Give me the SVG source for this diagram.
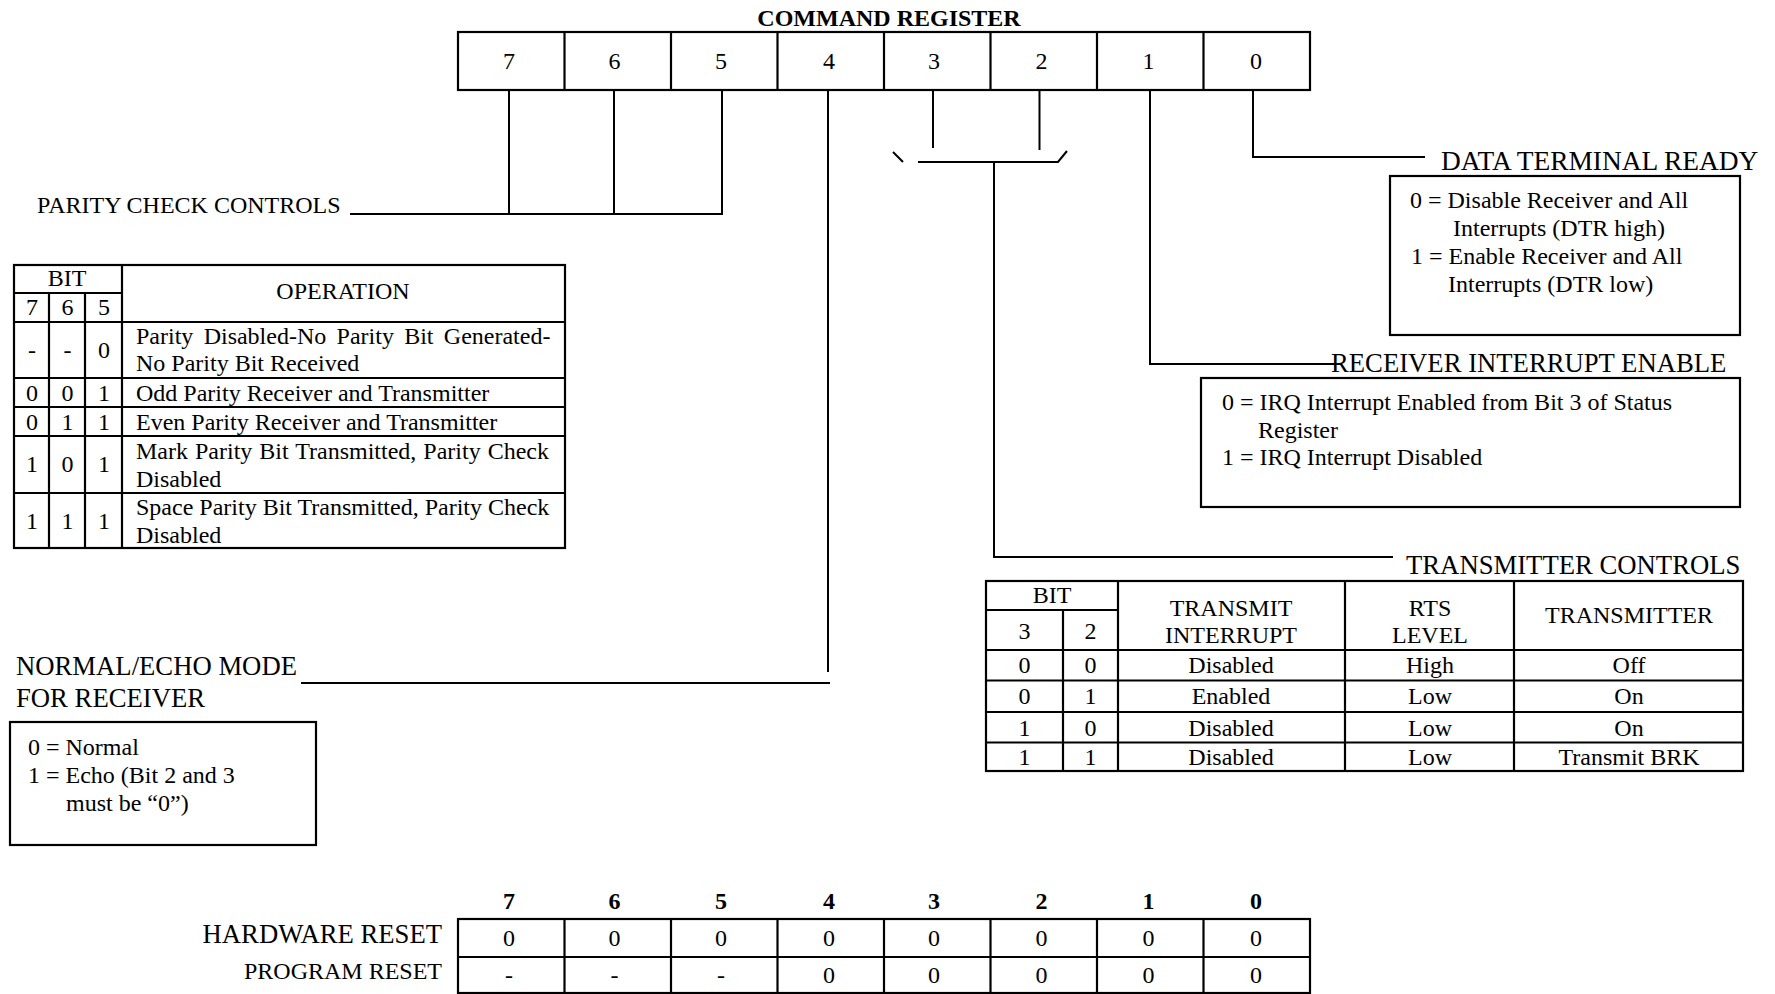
<svg xmlns="http://www.w3.org/2000/svg" width="1775" height="994" viewBox="0 0 1775 994">
<style>
.ln{stroke:#000;stroke-width:2;fill:none}
.bx{stroke:#000;stroke-width:2.2;fill:none}
text{font-family:'Liberation Serif','Times New Roman',serif;font-size:24px;fill:#000}
.lbl{font-size:26.7px}
.b{font-weight:bold}
.c{text-anchor:middle}
.r{text-anchor:end}
</style>
<rect width="1775" height="994" fill="#fff"/>

<g id="command-register">
<text class="b c" x="889" y="26">COMMAND REGISTER</text>
<rect class="bx" x="458" y="32" width="852" height="58"/>
<path class="bx" d="M564.5 32V90M671 32V90M777.5 32V90M884 32V90M990.5 32V90M1097 32V90M1203.5 32V90"/>
<text class="c" x="509" y="69">7</text>
<text class="c" x="614.5" y="69">6</text>
<text class="c" x="721" y="69">5</text>
<text class="c" x="829" y="69">4</text>
<text class="c" x="934" y="69">3</text>
<text class="c" x="1041.5" y="69">2</text>
<text class="c" x="1148.5" y="69">1</text>
<text class="c" x="1256" y="69">0</text>
</g>

<g id="connectors">
<path class="ln" d="M509 90V214M614 90V214M722 90V214M350 214H723"/>
<path class="ln" d="M828 90V672M301 683H830"/>
<path class="ln" d="M933 90V148M1039.5 90V150M918 162H1058L1067 151M893 152L903 162M994 162V557H1393"/>
<path class="ln" d="M1150 90V364H1341"/>
<path class="ln" d="M1253 90V157H1425"/>
</g>

<g id="parity-check-controls">
<text x="37" y="213">PARITY CHECK CONTROLS</text>
<rect class="bx" x="14" y="265" width="551" height="283"/>
<path class="bx" d="M122 265V548M49 293V548M85 293V548M14 293H122M14 322H565M14 378H565M14 407H565M14 436H565M14 493H565"/>
<text class="c" x="67" y="286">BIT</text>
<text class="c" x="32" y="315">7</text>
<text class="c" x="67.5" y="315">6</text>
<text class="c" x="104" y="315">5</text>
<text class="c" x="343" y="299">OPERATION</text>
<text class="c" x="32" y="358">-</text>
<text class="c" x="67.5" y="358">-</text>
<text class="c" x="104" y="358">0</text>
<text x="136" y="344" word-spacing="4.3">Parity Disabled-No Parity Bit Generated-</text>
<text x="136" y="371">No Parity Bit Received</text>
<text class="c" x="32" y="401">0</text>
<text class="c" x="67.5" y="401">0</text>
<text class="c" x="104" y="401">1</text>
<text x="136" y="401">Odd Parity Receiver and Transmitter</text>
<text class="c" x="32" y="430">0</text>
<text class="c" x="67.5" y="430">1</text>
<text class="c" x="104" y="430">1</text>
<text x="136" y="430">Even Parity Receiver and Transmitter</text>
<text class="c" x="32" y="472">1</text>
<text class="c" x="67.5" y="472">0</text>
<text class="c" x="104" y="472">1</text>
<text x="136" y="458.5" word-spacing="1">Mark Parity Bit Transmitted, Parity Check</text>
<text x="136" y="487">Disabled</text>
<text class="c" x="32" y="529">1</text>
<text class="c" x="67.5" y="529">1</text>
<text class="c" x="104" y="529">1</text>
<text x="136" y="515">Space Parity Bit Transmitted, Parity Check</text>
<text x="136" y="543">Disabled</text>
</g>

<g id="normal-echo-mode">
<text class="lbl" x="16" y="675">NORMAL/ECHO MODE</text>
<text class="lbl" x="16" y="707">FOR RECEIVER</text>
<rect class="bx" x="10" y="722" width="306" height="123"/>
<text x="28" y="755">0 = Normal</text>
<text x="28" y="783">1 = Echo (Bit 2 and 3</text>
<text x="66" y="811">must be “0”)</text>
</g>

<g id="data-terminal-ready">
<text class="lbl" x="1441" y="170" style="font-size:27.4px">DATA TERMINAL READY</text>
<rect class="bx" x="1390" y="176" width="350" height="159"/>
<text x="1410" y="208">0 = Disable Receiver and All</text>
<text x="1453" y="236">Interrupts (DTR high)</text>
<text x="1411" y="264">1 = Enable Receiver and All</text>
<text x="1448" y="292">Interrupts (DTR low)</text>
</g>

<g id="receiver-interrupt-enable">
<text class="lbl" x="1331" y="372">RECEIVER INTERRUPT ENABLE</text>
<rect class="bx" x="1201" y="378" width="539" height="129"/>
<text x="1222" y="410">0 = IRQ Interrupt Enabled from Bit 3 of Status</text>
<text x="1258" y="438">Register</text>
<text x="1222" y="465">1 = IRQ Interrupt Disabled</text>
</g>

<g id="transmitter-controls">
<text class="lbl" x="1406" y="574">TRANSMITTER CONTROLS</text>
<rect class="bx" x="986" y="581" width="757" height="190"/>
<path class="bx" d="M1063 610V771M1118 581V771M1345 581V771M1514 581V771M986 610H1118M986 650H1743M986 680.5H1743M986 712H1743M986 742.5H1743"/>
<text class="c" x="1052" y="603">BIT</text>
<text class="c" x="1024.5" y="639">3</text>
<text class="c" x="1090.5" y="639">2</text>
<text class="c" x="1231" y="616">TRANSMIT</text>
<text class="c" x="1231" y="643">INTERRUPT</text>
<text class="c" x="1430" y="616">RTS</text>
<text class="c" x="1430" y="643">LEVEL</text>
<text class="c" x="1629" y="623">TRANSMITTER</text>
<text class="c" x="1024.5" y="673">0</text><text class="c" x="1090.5" y="673">0</text>
<text class="c" x="1231" y="673">Disabled</text><text class="c" x="1430" y="673">High</text><text class="c" x="1629" y="673">Off</text>
<text class="c" x="1024.5" y="704">0</text><text class="c" x="1090.5" y="704">1</text>
<text class="c" x="1231" y="704">Enabled</text><text class="c" x="1430" y="704">Low</text><text class="c" x="1629" y="704">On</text>
<text class="c" x="1024.5" y="736">1</text><text class="c" x="1090.5" y="736">0</text>
<text class="c" x="1231" y="736">Disabled</text><text class="c" x="1430" y="736">Low</text><text class="c" x="1629" y="736">On</text>
<text class="c" x="1024.5" y="765">1</text><text class="c" x="1090.5" y="765">1</text>
<text class="c" x="1231" y="765">Disabled</text><text class="c" x="1430" y="765">Low</text><text class="c" x="1629" y="765">Transmit BRK</text>
</g>

<g id="reset-table">
<text class="b c" x="509" y="909">7</text>
<text class="b c" x="614.5" y="909">6</text>
<text class="b c" x="721" y="909">5</text>
<text class="b c" x="829" y="909">4</text>
<text class="b c" x="934" y="909">3</text>
<text class="b c" x="1041.5" y="909">2</text>
<text class="b c" x="1148.5" y="909">1</text>
<text class="b c" x="1256" y="909">0</text>
<text class="lbl r" x="442" y="943">HARDWARE RESET</text>
<text class="r" x="442" y="979">PROGRAM RESET</text>
<rect class="bx" x="458" y="919" width="852" height="74"/>
<path class="bx" d="M458 957H1310M564.5 919V993M671 919V993M777.5 919V993M884 919V993M990.5 919V993M1097 919V993M1203.5 919V993"/>
<text class="c" x="509" y="946">0</text>
<text class="c" x="614.5" y="946">0</text>
<text class="c" x="721" y="946">0</text>
<text class="c" x="829" y="946">0</text>
<text class="c" x="934" y="946">0</text>
<text class="c" x="1041.5" y="946">0</text>
<text class="c" x="1148.5" y="946">0</text>
<text class="c" x="1256" y="946">0</text>
<text class="c" x="509" y="983">-</text>
<text class="c" x="614.5" y="983">-</text>
<text class="c" x="721" y="983">-</text>
<text class="c" x="829" y="983">0</text>
<text class="c" x="934" y="983">0</text>
<text class="c" x="1041.5" y="983">0</text>
<text class="c" x="1148.5" y="983">0</text>
<text class="c" x="1256" y="983">0</text>
</g>
</svg>
